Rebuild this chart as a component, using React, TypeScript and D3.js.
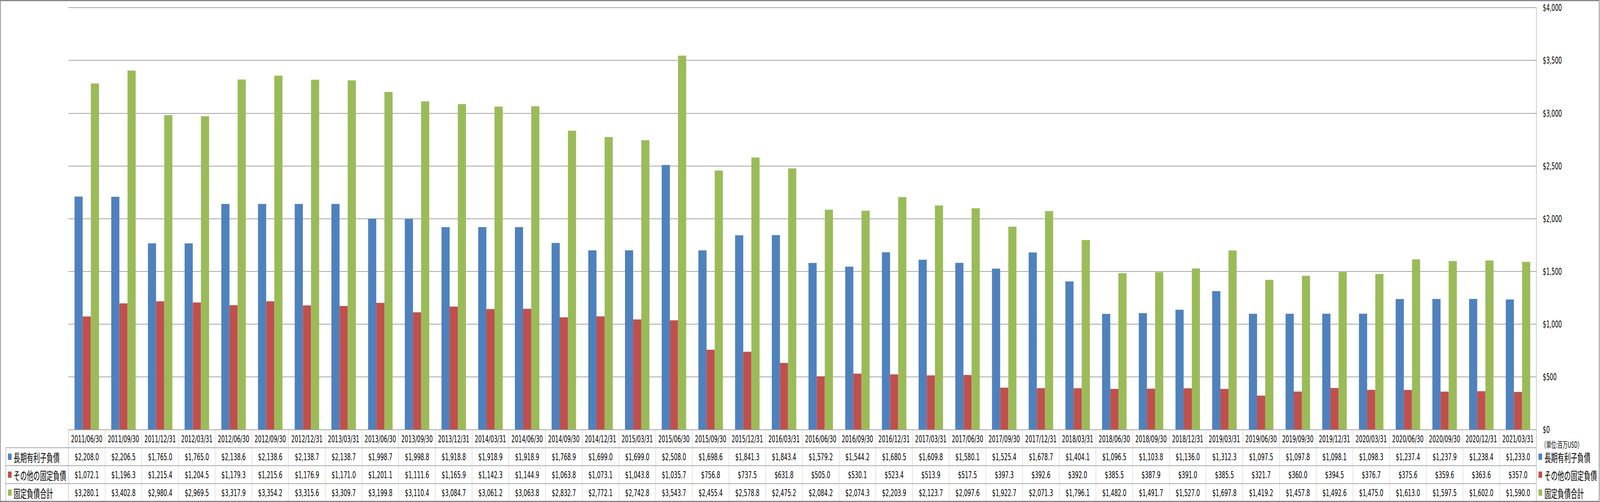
import { useEffect, useRef } from "react";
import * as d3 from "d3";

const dates = [
  "2011/06/30", "2011/09/30", "2011/12/31", "2012/03/31", "2012/06/30", "2012/09/30",
  "2012/12/31", "2013/03/31", "2013/06/30", "2013/09/30", "2013/12/31", "2014/03/31",
  "2014/06/30", "2014/09/30", "2014/12/31", "2015/03/31", "2015/06/30", "2015/09/30",
  "2015/12/31", "2016/03/31", "2016/06/30", "2016/09/30", "2016/12/31", "2017/03/31",
  "2017/06/30", "2017/09/30", "2017/12/31", "2018/03/31", "2018/06/30", "2018/09/30",
  "2018/12/31", "2019/03/31", "2019/06/30", "2019/09/30", "2019/12/31", "2020/03/31",
  "2020/06/30", "2020/09/30", "2020/12/31", "2021/03/31",
];

const longTermDebt = [
  2208.0, 2206.5, 1765.0, 1765.0, 2138.6, 2138.6, 2138.7, 2138.7, 1998.7, 1998.8,
  1918.8, 1918.9, 1918.9, 1768.9, 1699.0, 1699.0, 2508.0, 1698.6, 1841.3, 1843.4,
  1579.2, 1544.2, 1680.5, 1609.8, 1580.1, 1525.4, 1678.7, 1404.1, 1096.5, 1103.8,
  1136.0, 1312.3, 1097.5, 1097.8, 1098.1, 1098.3, 1237.4, 1237.9, 1238.4, 1233.0,
];

const otherFixed = [
  1072.1, 1196.3, 1215.4, 1204.5, 1179.3, 1215.6, 1176.9, 1171.0, 1201.1, 1111.6,
  1165.9, 1142.3, 1144.9, 1063.8, 1073.1, 1043.8, 1035.7, 756.8, 737.5, 631.8,
  505.0, 530.1, 523.4, 513.9, 517.5, 397.3, 392.6, 392.0, 385.5, 387.9,
  391.0, 385.5, 321.7, 360.0, 394.5, 376.7, 375.6, 359.6, 363.6, 357.0,
];

const totalFixed = [
  3280.1, 3402.8, 2980.4, 2969.5, 3317.9, 3354.2, 3315.6, 3309.7, 3199.8, 3110.4,
  3084.7, 3061.2, 3063.8, 2832.7, 2772.1, 2742.8, 3543.7, 2455.4, 2578.8, 2475.2,
  2084.2, 2074.3, 2203.9, 2123.7, 2097.6, 1922.7, 2071.3, 1796.1, 1482.0, 1491.7,
  1527.0, 1697.8, 1419.2, 1457.8, 1492.6, 1475.0, 1613.0, 1597.5, 1602.0, 1590.0,
];

const seriesNames = ["長期有利子負債", "その他の固定負債", "固定負債合計"];
const seriesColors = ["#4F81BD", "#C0504D", "#9BBB59"];
const yTicks = [0, 500, 1000, 1500, 2000, 2500, 3000, 3500, 4000];
const unitLabel = "（単位:百万USD）";

const W = 7052;
const H = 1286;
const latin = "'DejaVu Sans', 'Noto Sans CJK JP', sans-serif";
const cjk = "'Noto Sans CJK JP', sans-serif";

const App = () => {
  const ref = useRef(null);

  useEffect(() => {
    document.body.style.margin = "0";
    document.body.style.overflow = "hidden";
    const svg = d3.select(ref.current);
    svg.selectAll("*").remove();

    const plotL = 301.5;
    const plotR = 6771.5;
    const plotT = 19.3;
    const plotB = 1100.5;
    const headerB = 1147;
    const rowH = 46;
    const tableL = 25.5;
    const tableB = 1284;

    const series = [longTermDebt, otherFixed, totalFixed];

    const x0 = d3.scaleBand().domain(dates).range([plotL, plotR]).padding(0);
    const bw = x0.bandwidth();
    const x1 = d3
      .scaleBand()
      .domain(d3.range(3).map(String))
      .range([bw / 6, (bw * 5) / 6])
      .padding(0);
    const y = d3.scaleLinear().domain([0, 4000]).range([plotB, plotT]);
    const fmt = d3.format("$,");
    const fmtV = d3.format("$,.1f");

    // gridlines
    svg
      .append("g")
      .selectAll("line")
      .data(yTicks.slice(1))
      .join("line")
      .attr("x1", plotL)
      .attr("x2", plotR)
      .attr("y1", (d) => Math.round(y(d)) + 0.5)
      .attr("y2", (d) => Math.round(y(d)) + 0.5)
      .attr("stroke", "#868686")
      .attr("stroke-width", 1.5);

    // bars
    svg
      .append("g")
      .selectAll("g")
      .data(series)
      .join("g")
      .attr("fill", (d, i) => seriesColors[i])
      .selectAll("rect")
      .data((d, i) => d.map((v, j) => ({ v, j, i })))
      .join("rect")
      .attr("x", (d) => x0(dates[d.j]) + x1(String(d.i)))
      .attr("width", x1.bandwidth())
      .attr("y", (d) => y(d.v))
      .attr("height", (d) => y(0) - y(d.v));

    // y axis labels on the right
    svg
      .append("g")
      .selectAll("text")
      .data(yTicks)
      .join("text")
      .attr("x", 6800)
      .attr("y", (d) => y(d) + 1)
      .attr("dominant-baseline", "central")
      .attr("font-family", latin)
      .attr("font-size", 24)
      .attr("fill", "#000")
      .text((d) => fmt(d));

    svg
      .append("text")
      .attr("x", 6793)
      .attr("y", 1137)
      .attr("dominant-baseline", "central")
      .attr("font-family", cjk)
      .attr("font-size", 22)
      .attr("fill", "#000")
      .text(unitLabel);

    // table lines
    const t = svg.append("g");
    t.append("line")
      .attr("x1", plotL)
      .attr("x2", plotR)
      .attr("y1", 1101)
      .attr("y2", 1101)
      .attr("stroke", "#8a8a8a")
      .attr("stroke-width", 1.5);
    [0, 1, 2].forEach((r) => {
      const yy = headerB + r * rowH;
      t.append("line")
        .attr("x1", tableL)
        .attr("x2", plotR)
        .attr("y1", yy)
        .attr("y2", yy)
        .attr("stroke", "#8a8a8a")
        .attr("stroke-width", 1.5);
    });
    t.append("line")
      .attr("x1", tableL)
      .attr("x2", tableL)
      .attr("y1", headerB)
      .attr("y2", tableB)
      .attr("stroke", "#8a8a8a")
      .attr("stroke-width", 1.5);
    t.selectAll("line.col")
      .data(d3.range(dates.length))
      .join("line")
      .attr("class", "col")
      .attr("x1", (i) => x0(dates[i]))
      .attr("x2", (i) => x0(dates[i]))
      .attr("y1", 1101)
      .attr("y2", tableB)
      .attr("stroke", (i) => (i === 0 ? "#8a8a8a" : "#b4b4b4"))
      .attr("stroke-width", 1.2);
    t.append("line")
      .attr("x1", plotR)
      .attr("x2", plotR)
      .attr("y1", plotT)
      .attr("y2", tableB)
      .attr("stroke", "#8a8a8a")
      .attr("stroke-width", 1.5);

    // header dates
    t.selectAll("text.date")
      .data(dates)
      .join("text")
      .attr("class", "date")
      .attr("x", (d) => x0(d) + bw / 2)
      .attr("y", 1125)
      .attr("text-anchor", "middle")
      .attr("dominant-baseline", "central")
      .attr("font-family", latin)
      .attr("font-size", 24)
      .attr("fill", "#000")
      .text((d) => d);

    // values
    series.forEach((s, r) => {
      const cy = headerB + r * rowH + rowH / 2;
      t.append("g")
        .selectAll("text")
        .data(s)
        .join("text")
        .attr("x", (d, j) => x0(dates[j]) + bw / 2)
        .attr("y", cy + 1)
        .attr("text-anchor", "middle")
        .attr("dominant-baseline", "central")
        .attr("font-family", latin)
        .attr("font-size", 24)
        .attr("fill", "#000")
        .text((d) => fmtV(d));

      // row label at left, legend at right
      [
        [35, 60],
        [6781, 6807],
      ].forEach(([sx, tx]) => {
        t.append("rect")
          .attr("x", sx)
          .attr("y", cy - 8)
          .attr("width", 16)
          .attr("height", 16)
          .attr("fill", seriesColors[r]);
        t.append("text")
          .attr("x", tx)
          .attr("y", cy + 1)
          .attr("dominant-baseline", "central")
          .attr("font-family", cjk)
          .attr("font-size", 29)
          .attr("fill", "#000")
          .text(seriesNames[r]);
      });
    });

    // outer border
    svg
      .append("rect")
      .attr("x", 1.5)
      .attr("y", 1.5)
      .attr("width", W - 5)
      .attr("height", H - 3)
      .attr("fill", "none")
      .attr("stroke", "#878787")
      .attr("stroke-width", 3);
  }, []);

  return (
    <svg
      ref={ref}
      viewBox={`0 0 ${W} ${H}`}
      preserveAspectRatio="none"
      style={{ display: "block", width: "100vw", height: "100vh", background: "#fff" }}
    ></svg>
  );
};

export default App;
